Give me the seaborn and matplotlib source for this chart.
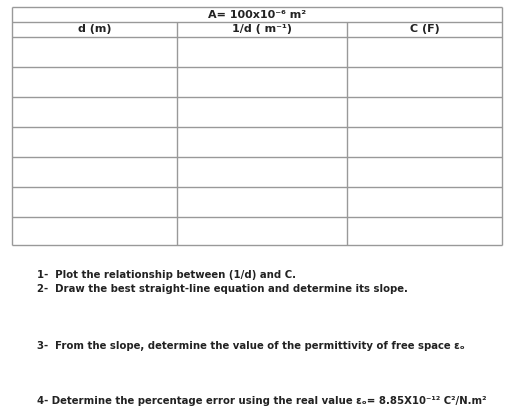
import matplotlib
matplotlib.use("Agg")
import matplotlib.pyplot as plt
import seaborn as sns

sns.set_style("white")
plt.rcParams['font.family'] = ['DejaVu Sans']

title = "A= 100x10⁻⁶ m²"
headers = ["d (m)", "1/d ( m⁻¹)", "C (F)"]
n_rows = 7
questions = [
    (275, "1-  Plot the relationship between (1/d) and C."),
    (289, "2-  Draw the best straight-line equation and determine its slope."),
    (346, "3-  From the slope, determine the value of the permittivity of free space εₒ"),
    (401, "4- Determine the percentage error using the real value εₒ= 8.85X10⁻¹² C²/N.m²"),
]

col_x = [12, 177, 347, 502]
row_y = [7, 22, 37, 67, 97, 127, 157, 187, 217, 245]
line_col = "#999999"

fig = plt.figure(figsize=(5.2, 4.15), dpi=100)
ax = fig.add_axes([0, 0, 1, 1])
ax.set_xlim(0, 520)
ax.set_ylim(415, 0)
ax.axis("off")

# horizontal lines
for y in row_y:
    ax.hlines(y, col_x[0], col_x[-1], color=line_col, lw=1)
# outer verticals
ax.vlines([col_x[0], col_x[-1]], row_y[0], row_y[-1], color=line_col, lw=1)
# inner verticals below title row
ax.vlines(col_x[1:3], row_y[1], row_y[-1], color=line_col, lw=1)

ax.text((col_x[0] + col_x[-1]) / 2, 14.5, title, ha="center", va="center",
        fontsize=8, fontweight="bold", color="#222222")
for i, h in enumerate(headers):
    ax.text((col_x[i] + col_x[i + 1]) / 2, 29.5, h, ha="center", va="center",
            fontsize=8, fontweight="bold", color="#222222")

for y, q in questions:
    ax.text(37, y, q, ha="left", va="center", fontsize=7.3,
            fontweight="bold", color="#222222")

fig.savefig("out.png", dpi=100)
